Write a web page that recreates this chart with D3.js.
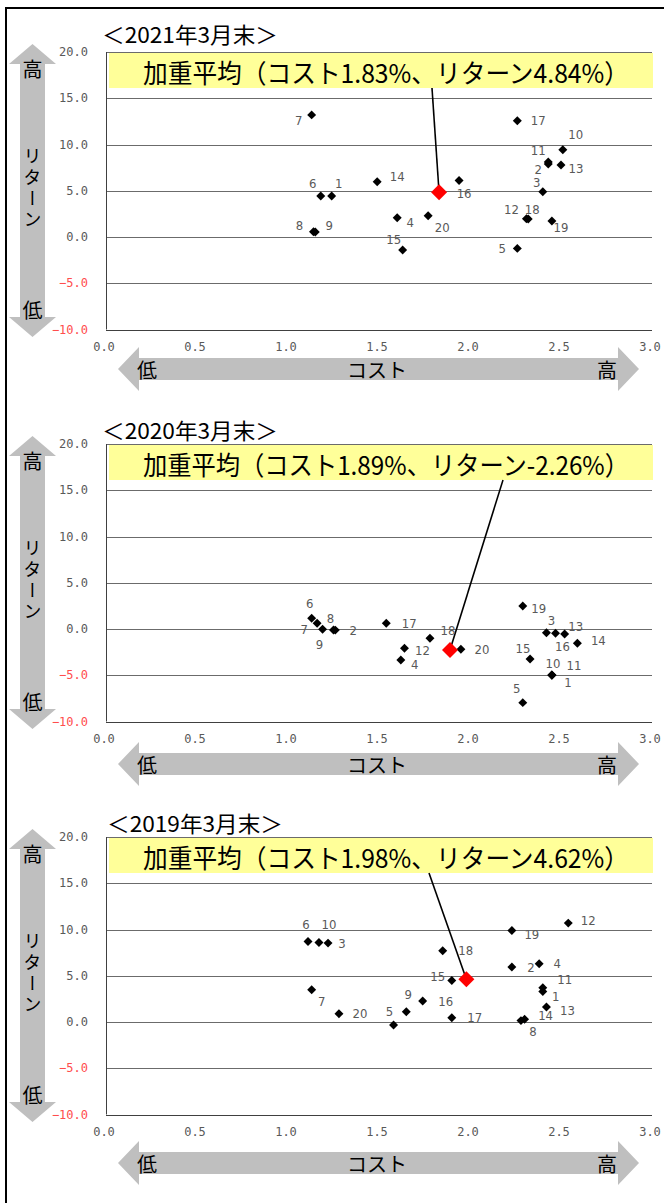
<!DOCTYPE html>
<html>
<head>
<meta charset="utf-8">
<script src="https://cdn.jsdelivr.net/npm/d3@7"></script>
<style>
  html, body { margin: 0; padding: 0; background: #fff; }
  svg { display: block; }
</style>
</head>
<body>
<div id="chart"></div>
<script>
// ---- data ----
const periods = ["＜2021年3月末＞", "＜2020年3月末＞", "＜2019年3月末＞"];
const fundLabels = ["1","2","3","4","5","6","7","8","9","10","11","12","13","14","15","16","17","18","19","20"];

const cost2021   = [1.24, 2.43, 2.40, 1.60, 2.26, 1.18, 1.13, 1.14, 1.15, 2.51, 2.43, 2.31, 2.50, 1.49, 1.63, 1.94, 2.26, 2.32, 2.45, 1.77];
const return2021 = [4.43, 7.90, 4.89, 2.08, -1.23, 4.43, 13.2, 0.57, 0.55, 9.43, 8.10, 1.98, 7.78, 5.97, -1.40, 6.11, 12.56, 1.95, 1.73, 2.30];

const cost2020   = [2.45, 1.26, 2.42, 1.62, 2.29, 1.13, 1.16, 1.25, 1.19, 2.45, 2.45, 1.64, 2.52, 2.59, 2.33, 2.47, 1.54, 1.78, 2.29, 1.95];
const return2020 = [-4.97, -0.12, -0.40, -3.35, -7.96, 1.16, 0.62, -0.11, -0.03, -4.97, -5.00, -2.08, -0.54, -1.54, -3.24, -0.46, 0.62, -1.00, 2.48, -2.19];

const cost2019   = [2.40, 2.23, 1.22, 2.38, 1.58, 1.11, 1.13, 2.28, 1.65, 1.17, 2.40, 2.54, 2.42, 2.30, 1.90, 1.74, 1.90, 1.85, 2.23, 1.28];
const return2019 = [3.30, 5.94, 8.53, 6.30, -0.32, 8.70, 3.49, 0.15, 1.11, 8.60, 3.70, 10.69, 1.62, 0.30, 4.49, 2.27, 0.46, 7.70, 9.89, 0.90];

const avgCost   = [1.83, 1.89, 1.98];
const avgReturn = [4.84, -2.26, 4.62];

const xTicks = [0, 0.5, 1.0, 1.5, 2.0, 2.5, 3.0];
const yTicks = [20, 15, 10, 5, 0, -5, -10];

const costs = [cost2021, cost2020, cost2019];
const returns = [return2021, return2020, return2019];

// ---- layout (label offsets, panel positions) ----
const labelOff = [
  [[7,-13],[-10,6],[-6,-9],[13,5],[-15,0],[-8,-13],[-13,6],[-14,-6],[14,-6],[13,-15],
   [-10,-12],[-15,-9],[15,3],[20,-5],[-9,-10],[5,13],[21,0],[4,-9],[9,7],[14,12]],
  [[16,8],[18,0],[5,-12],[14,5],[-6,-14],[-2,-15],[-13,6],[-3,-12],[-3,15],[1,-11],
   [22,-10],[18,2],[11,-7],[21,-3],[-7,-10],[7,13],[23,0],[18,-8],[16,2],[21,0]],
  [[13,5],[19,0],[14,0],[18,0],[-4,-13],[-2,-17],[10,12],[12,11],[2,-17],[10,-18],
   [22,-8],[20,-3],[21,3],[21,-4],[-14,-4],[23,0],[23,0],[23,0],[20,4],[21,0]]
];
const panelTop = [52, 444, 837];
const plotH = 277.5;
const plotLeft = 106, plotRight = 652;
const titleY = [33, 429, 822];
const titleX = [102, 102, 107];
const arrowY = [369, 764, 1163];
const calloutX = [432, 503, 429];

const W = 664, H = 1203;
const svg = d3.select("#chart").append("svg")
  .attr("width", W).attr("height", H)
  .style("font-family", "'Noto Sans CJK JP', sans-serif");

svg.append("rect").attr("width", W).attr("height", H).attr("fill", "#fff");

// outer frame
svg.append("path")
  .attr("d", `M6,${H} L6,8 L${W},8`)
  .attr("fill", "none").attr("stroke", "#000").attr("stroke-width", 2);

const x = d3.scaleLinear().domain([0, 3]).range([plotLeft, plotRight]);
const monoFont = "'DejaVu Sans Mono', monospace";

periods.forEach((period, p) => {
  const top = panelTop[p];
  const y = d3.scaleLinear().domain([-10, 20]).range([top + plotH, top]);
  const g = svg.append("g");

  // title
  g.append("text")
    .attr("x", titleX[p]).attr("y", titleY[p])
    .attr("dominant-baseline", "central")
    .attr("font-size", 22)
    .attr("textLength", 176).attr("lengthAdjust", "spacingAndGlyphs")
    .text(period);

  // gridlines
  g.selectAll("line.grid").data(yTicks).join("line")
    .attr("class", "grid")
    .attr("x1", plotLeft).attr("x2", plotRight)
    .attr("y1", d => Math.round(y(d)) + 0.5).attr("y2", d => Math.round(y(d)) + 0.5)
    .attr("stroke", d => d === -10 ? "#404040" : "#6b6b6b").attr("stroke-width", 1);

  g.append("line")
    .attr("x1", plotLeft + 0.5).attr("x2", plotLeft + 0.5)
    .attr("y1", top).attr("y2", top + plotH)
    .attr("stroke", "#404040");

  // y tick labels
  g.selectAll("text.ytick").data(yTicks).join("text")
    .attr("class", "ytick")
    .attr("x", 88).attr("y", d => y(d))
    .attr("text-anchor", "end").attr("dominant-baseline", "central")
    .attr("font-family", monoFont).attr("font-size", 12)
    .attr("fill", d => d < 0 ? "#ff4d4d" : "#595959")
    .text(d => d3.format(".1f")(d));

  // x tick labels
  g.selectAll("text.xtick").data(xTicks).join("text")
    .attr("class", "xtick")
    .attr("x", d => x(d) - 2).attr("y", top + plotH + 17)
    .attr("text-anchor", "middle").attr("dominant-baseline", "central")
    .attr("font-family", monoFont).attr("font-size", 12)
    .attr("fill", "#595959")
    .text(d => d3.format(".1f")(d));

  // vertical arrow (return)
  const ax = 32.5;
  const vArrow = [
    [ax, top - 8], [ax + 23.5, top + 12], [ax + 12.5, top + 12], [ax + 12.5, top + 265],
    [ax + 23.5, top + 265], [ax, top + 285], [ax - 23.5, top + 265], [ax - 12.5, top + 265],
    [ax - 12.5, top + 12], [ax - 23.5, top + 12]
  ];
  g.append("path").attr("d", d3.line()(vArrow) + "Z").attr("fill", "#bfbfbf");
  g.append("text").attr("x", ax).attr("y", top + 16)
    .attr("text-anchor", "middle").attr("dominant-baseline", "central")
    .attr("font-size", 20).text("高");
  // vertical label, written top to bottom so ー turns upright
  g.append("text").attr("x", ax).attr("y", top + 137)
    .attr("text-anchor", "middle")
    .style("writing-mode", "vertical-rl")
    .attr("font-size", 18).attr("letter-spacing", 2.7)
    .text("リターン");
  g.append("text").attr("x", ax).attr("y", top + 257)
    .attr("text-anchor", "middle").attr("dominant-baseline", "central")
    .attr("font-size", 20).text("低");

  // horizontal arrow (cost)
  const ay = arrowY[p];
  const hArrow = [
    [118, ay], [139, ay - 22], [139, ay - 11], [618, ay - 11], [618, ay - 22],
    [639, ay], [618, ay + 22], [618, ay + 11], [139, ay + 11], [139, ay + 22]
  ];
  g.append("path").attr("d", d3.line()(hArrow) + "Z").attr("fill", "#bfbfbf");
  [["低", 147], ["コスト", 377], ["高", 607]].forEach(([t, tx]) => {
    g.append("text").attr("x", tx).attr("y", ay)
      .attr("text-anchor", "middle").attr("dominant-baseline", "central")
      .attr("font-size", 20).text(t);
  });

  // callout box
  g.append("rect")
    .attr("x", 109).attr("y", top + 1)
    .attr("width", 544).attr("height", 35)
    .attr("fill", "#ffff99");
  const ac = avgCost[p], ar = avgReturn[p];
  g.append("text")
    .attr("x", 386).attr("y", top + 19)
    .attr("text-anchor", "middle").attr("dominant-baseline", "central")
    .attr("font-size", 26)
    .attr("textLength", 486).attr("lengthAdjust", "spacingAndGlyphs")
    .text(`加重平均（コスト${ac.toFixed(2)}%、リターン${ar.toFixed(2)}%）`);

  // callout line
  g.append("line")
    .attr("x1", calloutX[p]).attr("y1", top + 36)
    .attr("x2", x(ac)).attr("y2", y(ar))
    .attr("stroke", "#000").attr("stroke-width", 1.6);

  // points
  const pts = fundLabels.map((lab, i) => ({ lab, c: costs[p][i], r: returns[p][i], off: labelOff[p][i] }));
  const diamond = d3.symbol().type(d3.symbolSquare).size(40);
  g.selectAll("path.pt").data(pts).join("path")
    .attr("class", "pt")
    .attr("d", diamond)
    .attr("transform", d => `translate(${x(d.c)},${y(d.r)}) rotate(45)`)
    .attr("fill", "#000");

  g.selectAll("text.lab").data(pts).join("text")
    .attr("class", "lab")
    .attr("x", d => x(d.c) + d.off[0]).attr("y", d => y(d.r) + d.off[1])
    .attr("text-anchor", "middle").attr("dominant-baseline", "central")
    .attr("font-family", "'DejaVu Sans Condensed', 'Liberation Sans', sans-serif")
    .attr("font-size", 13).attr("fill", "#595959")
    .text(d => d.lab);

  // weighted average marker
  g.append("path")
    .attr("d", d3.symbol().type(d3.symbolSquare).size(128))
    .attr("transform", `translate(${x(ac)},${y(ar)}) rotate(45)`)
    .attr("fill", "#ff0000");
});
</script>
</body>
</html>
